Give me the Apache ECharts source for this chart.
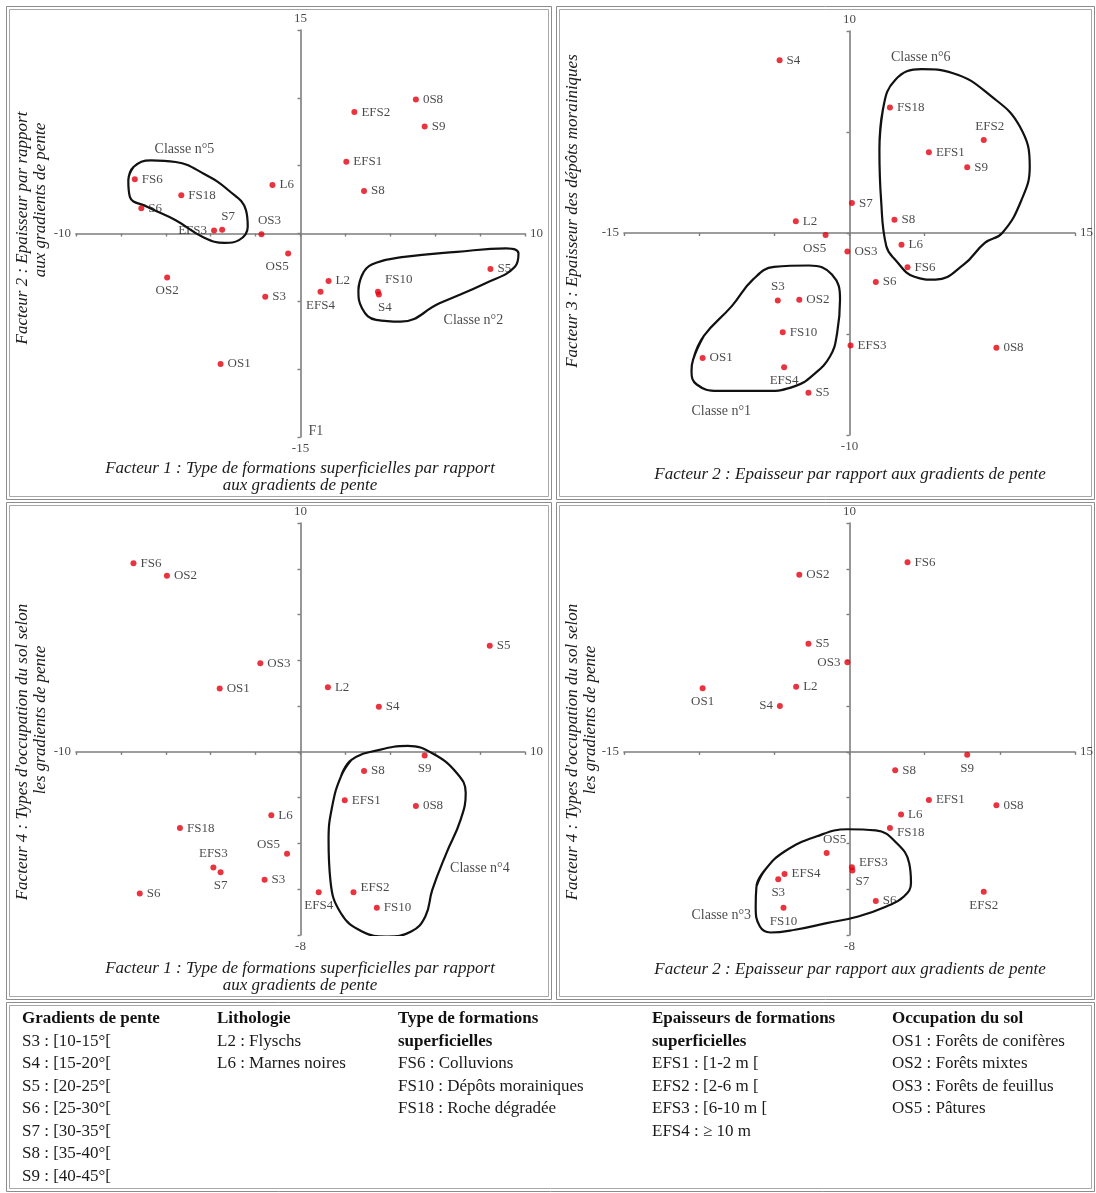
<!DOCTYPE html>
<html><head><meta charset="utf-8">
<script src="https://cdn.jsdelivr.net/npm/echarts@6/dist/echarts.min.js"></script>
<style>html,body{margin:0;padding:0;background:#fff}#c{width:1096px;height:1193px}</style>
</head><body><div id="c"></div>
<script>
// ---------------- DATA ----------------
const names = ['S3','S4','S5','S6','S7','S8','S9','L2','L6','FS6','FS10','FS18','EFS1','EFS2','EFS3','EFS4','OS1','OS2','OS3','OS5','0S8'];

// Panel 1 : Facteur 1 (x) / Facteur 2 (y)
const p1X = [-1.57, 3.49, 8.46, -7.09, -3.49, 2.83, 5.53, 1.25, -1.25, -7.38, 3.45, -5.31, 2.04, 2.40, -3.85, 0.89, -3.56, -5.94, -1.74, -0.55, 5.14];
const p1Y = [-4.66, -4.49, -2.62, 1.86, 0.27, 3.14, 7.89, -3.50, 3.58, 4.00, -4.29, 2.82, 5.29, 8.95, 0.22, -4.29, -9.61, -3.24, -0.05, -1.47, 9.88];
// Panel 2 : Facteur 2 (x) / Facteur 3 (y)
const p2X = [-4.77, -4.65, -2.73, 1.75, 0.16, 2.99, 7.83, -3.57, 3.46, 3.86, -4.44, 2.69, 5.28, 8.93, 0.07, -4.35, -9.77, -3.34, -0.14, -1.59, 9.77];
const p2Y = [-3.34, 8.55, -7.91, -2.42, 1.48, 0.66, 3.26, 0.58, -0.58, -1.70, -4.91, 6.21, 4.00, 4.60, -5.57, -6.64, -6.19, -3.31, -0.91, -0.10, -5.68];
// Panel 3 : Facteur 1 (x) / Facteur 4 (y)
const p3X = [-1.60, 3.49, 8.43, -7.16, -3.56, 2.83, 5.53, 1.22, -1.30, -7.44, 3.40, -5.37, 1.97, 2.36, -3.88, 0.81, -3.60, -5.95, -1.79, -0.60, 5.14];
const p3Y = [-5.59, 1.97, 4.64, -6.19, -5.26, -0.83, -0.16, 2.82, -2.77, 8.24, -6.81, -3.33, -2.11, -6.13, -5.05, -6.13, 2.77, 7.70, 3.87, -4.45, -2.36];
// Panel 4 : Facteur 2 (x) / Facteur 4 (y)
const p4X = [-4.74, -4.63, -2.73, 1.75, 0.19, 3.04, 7.83, -3.55, 3.43, 3.86, -4.39, 2.69, 5.28, 8.93, 0.16, -4.32, -9.77, -3.34, -0.14, -1.52, 9.77];
const p4Y = [-5.56, 2.01, 4.72, -6.51, -5.18, -0.80, -0.13, 2.85, -2.74, 8.28, -6.81, -3.32, -2.10, -6.11, -5.04, -5.33, 2.78, 7.74, 3.92, -4.42, -2.33];

// axis ranges, tick intervals and end tick labels  [xmin, xmax], [ymin, ymax]
const p1Range = [[-10, 10], [-15, 15]], p1Step = [2, 5], p1Ticks = ['-10', '10', '-15', '15'];
const p2Range = [[-15, 15], [-10, 10]], p2Step = [5, 5], p2Ticks = ['-15', '15', '-10', '10'];
const p3Range = [[-10, 10], [-8, 10]],  p3Step = [2, 2], p3Ticks = ['-10', '10', '-8', '10'];
const p4Range = [[-15, 15], [-8, 10]],  p4Step = [5, 2], p4Ticks = ['-15', '15', '-8', '10'];

// class outlines (data coordinates)
const classe5 = [[-7.67,3.92],[-7.44,4.90],[-6.66,5.39],[-5.56,5.27],[-4.31,4.41],[-3.21,3.19],[-2.43,1.72],[-2.35,0.49],[-2.74,-0.49],[-3.37,-0.69],[-4.31,-0.29],[-5.56,0.98],[-6.81,1.96],[-7.60,2.70]];
const classe2 = [[2.58,-4.17],[2.82,-2.82],[3.37,-2.16],[4.62,-1.72],[6.97,-1.35],[9.16,-1.10],[9.71,-1.47],[9.55,-2.45],[8.22,-3.68],[6.19,-5.15],[4.46,-6.50],[3.37,-6.37],[2.74,-5.51]];
const classe6 = [[1.99,4.12],[2.22,6.10],[3.04,7.58],[4.79,8.11],[6.89,7.91],[9.46,6.75],[11.33,5.27],[11.99,3.29],[11.45,1.65],[10.16,0.0],[9.0,-0.49],[7.59,-1.57],[5.72,-2.31],[4.32,-2.17],[3.04,-1.32],[2.45,-0.66],[2.10,1.65]];
const classe1 = [[-10.40,-6.26],[-9.70,-5.11],[-7.83,-3.62],[-6.43,-2.31],[-5.02,-1.68],[-2.69,-1.61],[-1.17,-2.06],[-0.63,-3.29],[-0.82,-4.94],[-1.29,-6.10],[-2.45,-7.05],[-3.62,-7.58],[-5.49,-7.82],[-8.76,-7.82],[-10.16,-7.50],[-10.51,-6.84]];
const classe4 = [[1.80,-1.08],[2.27,-0.35],[3.52,0.09],[4.78,0.26],[5.87,-0.06],[6.97,-0.93],[7.36,-1.80],[7.13,-2.97],[6.50,-4.42],[5.87,-6.03],[5.56,-7.19],[4.93,-7.85],[3.84,-8.07],[2.74,-7.85],[1.80,-7.05],[1.33,-5.59],[1.25,-3.84],[1.41,-2.39]];
const classe3 = [[-6.19,-5.88],[-5.61,-5.15],[-4.32,-4.35],[-2.22,-3.70],[-0.12,-3.38],[1.75,-3.43],[3.15,-3.99],[3.97,-4.86],[4.09,-5.73],[3.62,-6.32],[2.45,-6.75],[0.58,-7.19],[-1.52,-7.48],[-3.62,-7.77],[-5.26,-7.89],[-5.96,-7.63],[-6.24,-6.76]];

// class names and label anchors (data coordinates)
const p1ClassText = ['Classe n°5', 'Classe n°2'], p1ClassAt = [[-5.17, 6.2], [7.7, -6.4]];
const p2ClassText = ['Classe n°6', 'Classe n°1'], p2ClassAt = [[4.74, 8.7], [-8.53, -8.85]];
const p3ClassText = ['Classe n°4'], p3ClassAt = [[7.99, -5.08]];
const p4ClassText = ['Classe n°3'], p4ClassAt = [[-8.53, -7.15]];
const p1Extra = [{name: 'F1', value: [0, -14.6]}];

const titlesX = [
  ['Facteur 1 : Type de formations superficielles par rapport', 'aux gradients de pente'],
  ['Facteur 2 : Epaisseur par rapport aux gradients de pente'],
  ['Facteur 1 : Type de formations superficielles par rapport', 'aux gradients de pente'],
  ['Facteur 2 : Epaisseur par rapport aux gradients de pente']
];
const titlesY = [
  ['Facteur 2 : Epaisseur par rapport', 'aux gradients de pente'],
  ['Facteur 3 : Epaisseur des dépôts morainiques'],
  ["Facteur 4 : Types d'occupation du sol selon", 'les gradients de pente'],
  ["Facteur 4 : Types d'occupation du sol selon", 'les gradients de pente']
];

const legendHeads = [['Gradients de pente'], ['Lithologie'], ['Type de formations', 'superficielles'], ['Epaisseurs de formations', 'superficielles'], ['Occupation du sol']];
const legendItems = [
  ['S3 : [10-15°[', 'S4 : [15-20°[', 'S5 : [20-25°[', 'S6 : [25-30°[', 'S7 : [30-35°[', 'S8 : [35-40°[', 'S9 : [40-45°['],
  ['L2 : Flyschs', 'L6 : Marnes noires'],
  ['FS6 : Colluvions', 'FS10 : Dépôts morainiques', 'FS18 : Roche dégradée'],
  ['EFS1 : [1-2 m [', 'EFS2 : [2-6 m [', 'EFS3 : [6-10 m [', 'EFS4 : \u2265 10 m'],
  ['OS1 : Forêts de conifères', 'OS2 : Forêts mixtes', 'OS3 : Forêts de feuillus', 'OS5 : Pâtures']
];

// ---------------- STYLE / LAYOUT ----------------
const FONT = '"Liberation Serif", "Times New Roman", serif';
const AX = '#7d7d7d';
const RED = '#e3000f';
const TXT = '#1a1a1a';
const grids = [
  {left: 76, top: 30, width: 449, height: 407},
  {left: 624, top: 31, width: 451, height: 404},
  {left: 76, top: 523, width: 449, height: 412},
  {left: 624, top: 523, width: 451, height: 412}
];
const place = [
  {EFS3: 'left', S7: 'topR', OS3: 'topR2', OS5: 'bottomL', OS2: 'bottom', EFS4: 'bottom', FS10: 'rightUp2', S4: 'bottomR'},
  {EFS2: 'topR', OS5: 'bottomL', S3: 'top', EFS4: 'bottom'},
  {S9: 'bottom', OS5: 'leftUp', EFS3: 'top', S7: 'bottom', EFS4: 'bottom', EFS2: 'rightUp'},
  {OS3: 'left', OS1: 'bottom', S4: 'left', S9: 'bottom', FS18: 'rightDown', OS5: 'topR2', EFS3: 'rightUp', S7: 'bottomR2', S3: 'bottom', EFS2: 'bottom', FS10: 'bottom'}
];
const placeCfg = {
  right: {position: 'right'},
  left: {position: 'left'},
  top: {position: 'top'},
  bottom: {position: 'bottom'},
  topR: {position: 'top', offset: [6, 0]},
  topR2: {position: 'top', offset: [8, 0]},
  bottomL: {position: 'bottom', offset: [-11, 0]},
  bottomR: {position: 'bottom', offset: [6, 0]},
  bottomR2: {position: 'bottom', offset: [10, -2]},
  rightUp: {position: 'right', offset: [0, -5]},
  rightUp2: {position: 'right', offset: [0, -12]},
  rightDown: {position: 'right', offset: [0, 5]},
  leftUp: {position: 'left', offset: [0, -9]}
};

const panels = [
  {X: p1X, Y: p1Y, range: p1Range, step: p1Step, ticks: p1Ticks, classes: [classe5, classe2], ctext: p1ClassText, cat: p1ClassAt, extra: p1Extra},
  {X: p2X, Y: p2Y, range: p2Range, step: p2Step, ticks: p2Ticks, classes: [classe6, classe1], ctext: p2ClassText, cat: p2ClassAt, extra: []},
  {X: p3X, Y: p3Y, range: p3Range, step: p3Step, ticks: p3Ticks, classes: [classe4], ctext: p3ClassText, cat: p3ClassAt, extra: []},
  {X: p4X, Y: p4Y, range: p4Range, step: p4Step, ticks: p4Ticks, classes: [classe3], ctext: p4ClassText, cat: p4ClassAt, extra: []}
];

const xAxes = [], yAxes = [], series = [];
const lbl = {fontFamily: FONT, fontSize: 13, color: TXT};
panels.forEach((p, i) => {
  const axisCommon = {
    type: 'value', gridIndex: i,
    axisLine: {show: true, onZero: true, lineStyle: {color: AX, width: 1.6}},
    axisTick: {show: true, length: 3, lineStyle: {color: AX, width: 1.4}},
    axisLabel: {show: false}, splitLine: {show: false}
  };
  xAxes.push(Object.assign({}, axisCommon, {min: p.range[0][0], max: p.range[0][1], interval: p.step[0]}));
  yAxes.push(Object.assign({}, axisCommon, {min: p.range[1][0], max: p.range[1][1], interval: p.step[1]}));
  // class outlines
  p.classes.forEach(c => {
    series.push({
      type: 'line', xAxisIndex: i, yAxisIndex: i, smooth: 0.45, symbol: 'none', silent: true,
      data: c.concat([c[0], c[1]]),
      lineStyle: {color: '#111', width: 2.2}, z: 3
    });
  });
  // points
  series.push({
    type: 'scatter', xAxisIndex: i, yAxisIndex: i, symbol: 'circle', symbolSize: 6,
    itemStyle: {color: RED}, z: 5,
    data: names.map((n, k) => {
      const cfg = placeCfg[place[i][n] || 'right'];
      return {name: n, value: [p.X[k], p.Y[k]], label: Object.assign({show: true, formatter: n, distance: 4}, lbl, cfg)};
    })
  });
  // axis end labels
  const ends = [
    {value: [p.range[0][0], 0], pos: 'left'},
    {value: [p.range[0][1], 0], pos: 'right'},
    {value: [0, p.range[1][0]], pos: 'bottom'},
    {value: [0, p.range[1][1]], pos: 'top'}
  ];
  series.push({
    type: 'scatter', xAxisIndex: i, yAxisIndex: i, symbolSize: 0, silent: true, z: 4,
    data: ends.map((e, k) => ({value: e.value, label: Object.assign({show: true, formatter: p.ticks[k], position: e.pos, distance: 5}, lbl)}))
  });
  // class names + extra annotations
  series.push({
    type: 'scatter', xAxisIndex: i, yAxisIndex: i, symbolSize: 0, silent: true, z: 4,
    data: p.ctext.map((t, k) => ({value: p.cat[k], label: Object.assign({show: true, formatter: t, position: 'inside'}, lbl, {fontSize: 14})}))
      .concat(p.extra.map(e => ({value: e.value, label: Object.assign({show: true, formatter: e.name, position: 'right', distance: 8}, lbl, {fontSize: 14})})))
  });
});

// ---------------- GRAPHIC (frames, titles, legend) ----------------
const graphic = [];
const frames = [[6, 6, 545, 493], [556, 6, 538, 493], [6, 502, 545, 497], [556, 502, 538, 497], [6, 1002, 1088, 189]];
frames.forEach(f => {
  graphic.push({type: 'rect', shape: {x: f[0] + 0.5, y: f[1] + 0.5, width: f[2], height: f[3]}, style: {fill: null, stroke: '#8c8c8c', lineWidth: 1}, silent: true});
  graphic.push({type: 'rect', shape: {x: f[0] + 3.5, y: f[1] + 3.5, width: f[2] - 6, height: f[3] - 6}, style: {fill: null, stroke: '#a8a8a8', lineWidth: 1}, silent: true});
});
const TFONT = 'italic 17px ' + FONT;
const xTitlePos = [[300, 469], [850, 475], [300, 969], [850, 970]];
titlesX.forEach((lines, i) => {
  lines.forEach((t, k) => graphic.push({type: 'text', x: xTitlePos[i][0], y: xTitlePos[i][1] + k * 17,
    style: {text: t, font: TFONT, fill: TXT, textAlign: 'center', textVerticalAlign: 'middle'}, silent: true}));
});
const yTitlePos = [[[23, 228], [41, 200]], [[573, 211]], [[23, 752], [41, 720]], [[573, 752], [591, 720]]];
titlesY.forEach((lines, i) => {
  lines.forEach((t, k) => graphic.push({type: 'text', x: yTitlePos[i][k][0], y: yTitlePos[i][k][1], rotation: Math.PI / 2,
    style: {text: t, font: TFONT, fill: TXT, textAlign: 'center', textVerticalAlign: 'middle'}, silent: true}));
});
const colX = [22, 217, 398, 652, 892];
const rowY0 = 1019, rowH = 22.5;
legendHeads.forEach((heads, c) => {
  let r = 0;
  heads.forEach(h => { graphic.push({type: 'text', x: colX[c], y: rowY0 + r * rowH, style: {text: h, font: 'bold 17px ' + FONT, fill: '#111', textVerticalAlign: 'middle'}, silent: true}); r++; });
  legendItems[c].forEach(t => { graphic.push({type: 'text', x: colX[c], y: rowY0 + r * rowH, style: {text: t, font: '17px ' + FONT, fill: TXT, textVerticalAlign: 'middle'}, silent: true}); r++; });
});

const chart = echarts.init(document.getElementById('c'), null, {renderer: 'canvas'});
chart.setOption({
  animation: false,
  backgroundColor: '#fff',
  grid: grids.map(g => Object.assign({containLabel: false}, g)),
  xAxis: xAxes, yAxis: yAxes, series: series, graphic: graphic
});
</script></body></html>
